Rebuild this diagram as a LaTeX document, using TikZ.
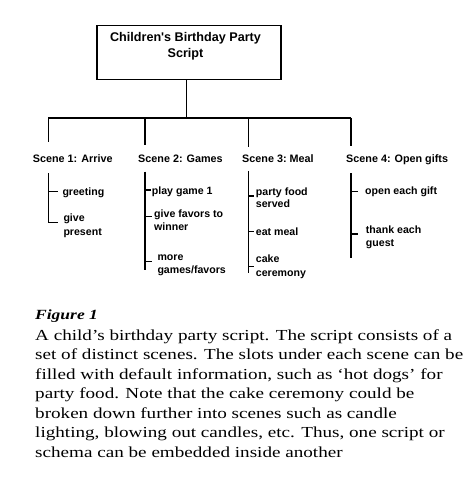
\documentclass[tikz,border=0pt]{standalone}
\usepackage{fontspec}
\newfontfamily\diagsans{Liberation Sans}
\newfontfamily\capserif[FakeStretch=1.25]{Liberation Serif}
\newcommand\stacklines[3]{\vtop{\baselineskip=#1pt\hbox{#2}\hbox{#3}}}
\begin{document}
\begin{tikzpicture}[x=1pt,y=-1pt,
  lines/.style={line width=1.2pt, black},
  titlebox/.style={draw, lines, minimum width=184pt, minimum height=53.6pt, inner sep=0pt},
  titletext/.style={font=\diagsans\bfseries\fontsize{12.6}{16}\selectfont, inner sep=0pt, anchor=base},
  scene/.style={font=\diagsans\bfseries\fontsize{10.8}{13}\selectfont, inner sep=0pt, anchor=base west},
  item/.style={font=\diagsans\bfseries\fontsize{10.6}{13}\selectfont, inner sep=0pt, anchor=base west},
  figlabel/.style={font=\capserif\bfseries\itshape\fontsize{14}{17}\selectfont, inner sep=0pt, anchor=base west},
  captext/.style={font=\capserif\fontsize{15.3}{19.5}\selectfont, inner sep=0pt, anchor=base west}]
\fill[white] (0,0) rectangle (474,478);
\useasboundingbox (0,0) rectangle (474,478);

% title
\node[titlebox] (title) at (189,52.5) {};
\node[titletext] (titlet) at (185.5,42) {\vtop{\baselineskip=16pt\halign{\hfil#\hfil\cr Children's Birthday Party\cr Script\cr}}};

% bus
\coordinate (stem) at (186.7,118);
\coordinate (busL) at (48.3,118);
\coordinate (busR) at (351,118);
\coordinate (d1) at (48.3,142);
\coordinate (d2) at (145,145);
\coordinate (d3) at (248.3,147);
\coordinate (d4) at (351,146);
\draw[lines] (title.south -| stem) -- (stem);
\draw[lines] (busL) -- (busR);
\draw[lines] (busL) -- (d1);
\draw[lines] (d2 |- stem) -- (d2);
\draw[lines] (d3 |- stem) -- (d3);
\draw[lines] (busR) -- (d4);

% scenes
\node[scene] (s1) at (32.7,162.5) {Scene 1: Arrive};
\node[scene] (s2) at (138,162.5) {Scene 2: Games};
\node[scene] (s3) at (242,162.5) {Scene 3:\ Meal};
\node[scene] (s4) at (346,162.5) {Scene 4: Open gifts};

% scene 1 slots
\draw[lines] (48.3,173.3) -- (48.3,222.3);
\draw[lines] (48.3,191.7) -- (58.3,191.7);
\draw[lines] (48.3,222.3) -- (58.3,222.3);
\node[item] (i11) at (62.3,195.5) {greeting};
\node[item] (i12) at (63.3,221.7) {\stacklines{14}{give}{present}};

% scene 2 slots
\draw[lines] (145,171.7) -- (145,270);
\draw[lines] (145,190) -- (150.7,190);
\draw[lines] (145,216.7) -- (151.7,216.7);
\draw[lines] (145,261.7) -- (151.7,261.7);
\node[item] (i21) at (151.7,194) {play game 1};
\node[item] (i22) at (154,217.7) {\stacklines{13}{give favors to}{winner}};
\node[item] (i23) at (157.3,260.3) {\stacklines{13}{more}{games/favors}};

% scene 3 slots
\draw[lines] (248.3,171) -- (248.3,273.3);
\draw[lines] (248.3,196) -- (254,196);
\draw[lines] (248.3,231.7) -- (254,231.7);
\draw[lines] (248.3,266.7) -- (254,266.7);
\node[item] (i31) at (255.7,195) {\stacklines{12.7}{party food}{served}};
\node[item] (i32) at (255.7,235) {eat meal};
\node[item] (i33) at (255.7,262.7) {\stacklines{14}{cake}{ceremony}};

% scene 4 slots
\draw[lines] (351,173.3) -- (351,258.3);
\draw[lines] (351,191.7) -- (358.3,191.7);
\draw[lines] (351,234) -- (358.3,234);
\node[item] (i41) at (365,194) {open each gift};
\node[item] (i42) at (365.7,233.3) {\stacklines{13}{thank each}{guest}};

% caption
\node[figlabel] (fig) at (35,319.3) {Figure 1};
\node[captext] (cap) at (35,340) {\vtop{\baselineskip=19.5pt
  \hbox{A child’s birthday party script. The script consists of a}
  \hbox{set of distinct scenes. The slots under each scene can be}
  \hbox{filled with default information, such as ‘hot dogs’ for}
  \hbox{party food. Note that the cake ceremony could be}
  \hbox{broken down further into scenes such as candle}
  \hbox{lighting, blowing out candles, etc. Thus, one script or}
  \hbox{schema can be embedded inside another}}};
\end{tikzpicture}
\end{document}
